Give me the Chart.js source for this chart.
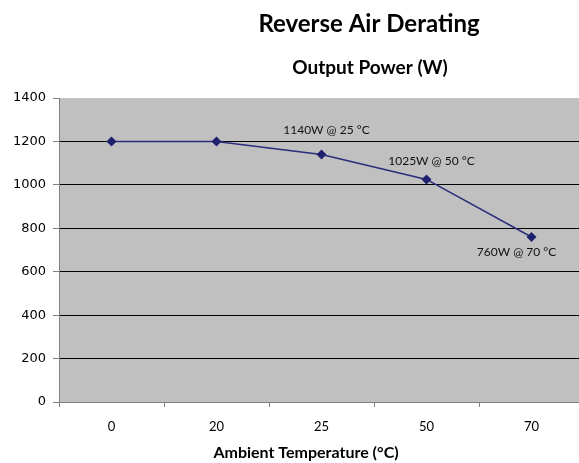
<!DOCTYPE html>
<html>
<head>
<meta charset="utf-8">
<script src="https://cdn.jsdelivr.net/npm/chart.js@4/dist/chart.umd.min.js"></script>
<style>
  html, body { margin: 0; padding: 0; background: #ffffff; overflow: hidden; }
  #wrap { width: 579px; height: 463px; position: relative; overflow: hidden; }
</style>
</head>
<body>
<div id="wrap"><canvas id="c" width="584" height="463"></canvas></div>
<script>
const categories = ['0', '20', '25', '50', '70'];
const outputPower = [1200, 1200, 1140, 1025, 760];
const pointLabels = ['', '', '1140W @ 25 °C', '1025W @ 50 °C', '760W @ 70 °C'];
const yTicks = [0, 200, 400, 600, 800, 1000, 1200, 1400];
const chartTitle = 'Reverse Air Derating';
const chartSubtitle = 'Output Power (W)';
const xAxisTitle = 'Ambient Temperature (°C)';

const labelOffsets = [null, null, [5, -24], [5, -18], [-15, 15]];

const overlay = {
  id: 'overlay',
  afterDraw(chart) {
    const ctx = chart.ctx;
    ctx.save();
    ctx.fillStyle = '#000';
    ctx.textAlign = 'center';
    ctx.textBaseline = 'middle';
    ctx.font = 'bold 24px Lato';
    ctx.fillText(chartTitle, 369, 24);
    ctx.font = 'bold 19px Lato';
    ctx.fillText(chartSubtitle, 370, 68);
    ctx.font = 'bold 16px Lato';
    ctx.fillText(xAxisTitle, 306, 453);
    const meta = chart.getDatasetMeta(0);
    ctx.font = '12px Lato';
    ctx.fillStyle = '#111';
    meta.data.forEach((pt, i) => {
      const t = pointLabels[i];
      if (!t) return;
      const o = labelOffsets[i];
      ctx.fillText(t, pt.x + o[0], pt.y + o[1]);
    });
    ctx.restore();
  }
};

const plotBg = {
  id: 'plotBg',
  beforeDraw(chart) {
    const a = chart.chartArea;
    const ctx = chart.ctx;
    ctx.save();
    ctx.fillStyle = '#c0c0c0';
    ctx.fillRect(a.left, a.top, a.right - a.left, a.bottom - a.top);
    ctx.restore();
  }
};

new Chart(document.getElementById('c'), {
  type: 'line',
  data: {
    labels: categories,
    datasets: [{
      data: outputPower,
      borderColor: '#2a2d7c',
      backgroundColor: '#1f216e',
      borderWidth: 1.5,
      pointStyle: 'rectRot',
      pointRadius: 5,
      pointHoverRadius: 5,
      pointBorderWidth: 0,
      tension: 0,
      fill: false
    }]
  },
  options: {
    responsive: false,
    animation: false,
    layout: { autoPadding: false, padding: { top: 98, right: 0, left: 0, bottom: 0 } },
    plugins: {
      legend: { display: false },
      title: { display: false },
      tooltip: { enabled: false }
    },
    scales: {
      x: {
        type: 'category',
        offset: true,
        grid: {
          offset: true,
          drawOnChartArea: false,
          drawTicks: true,
          tickLength: 5,
          tickColor: '#808080'
        },
        border: { color: '#808080', width: 1 },
        ticks: {
          color: '#000',
          font: { family: 'Lato', size: 13 },
          padding: 12,
          maxRotation: 0
        },
        afterFit(s) { s.height = 61; }
      },
      y: {
        min: 0,
        max: 1400,
        afterBuildTicks(s) { s.ticks = yTicks.map(v => ({ value: v })); },
        grid: {
          color: (c) => (c.tick && (c.tick.value === 0 || c.tick.value === 1400)) ? 'rgba(0,0,0,0)' : '#000000',
          lineWidth: 1,
          tickLength: 6,
          tickColor: '#808080'
        },
        border: { color: '#808080', width: 1 },
        ticks: {
          color: '#000',
          font: { family: 'DejaVu Sans', size: 13 },
          padding: 7,
          callback: (v) => String(v)
        },
        afterFit(s) { s.width = 59; }
      }
    }
  },
  plugins: [plotBg, overlay]
});
</script>
</body>
</html>
